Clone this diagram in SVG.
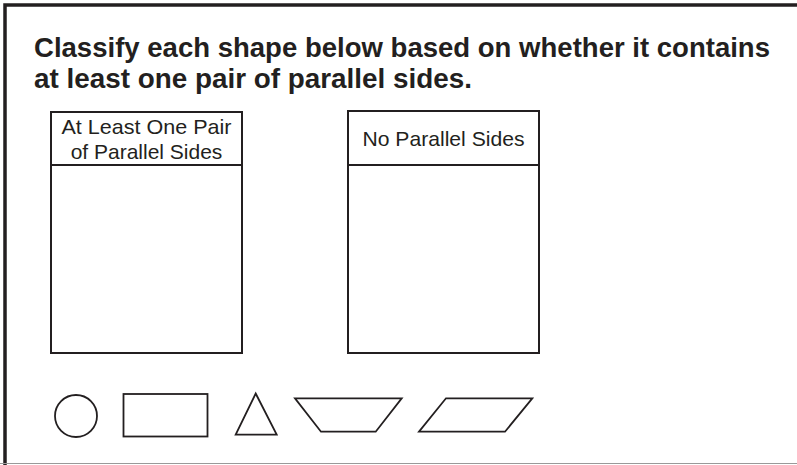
<svg xmlns="http://www.w3.org/2000/svg" width="797" height="465" viewBox="0 0 797 465">
<style>
.frame{fill:none;stroke:#231f20;stroke-width:3.5}
.box{fill:#fff;stroke:#231f20;stroke-width:2}
.shape{fill:#fff;stroke:#231f20;stroke-width:1.8}
.title{font-family:"Liberation Sans",Arial,sans-serif;font-weight:bold;font-size:27px;fill:#231f20}
.hdr{font-family:"Liberation Sans",Arial,sans-serif;font-size:21px;fill:#231f20;text-anchor:middle}
</style>
<rect width="797" height="465" fill="#fff"/>
<g id="frame">
<polyline class="frame" points="797,5 5,5 5,465"/>
<line x1="0" y1="463.5" x2="797" y2="463.5" stroke="#999" stroke-width="1.2"/>
</g>
<g id="title">
<text class="title" x="34" y="57" textLength="736" lengthAdjust="spacingAndGlyphs">Classify each shape below based on whether it contains</text>
<text class="title" x="34" y="88" textLength="438" lengthAdjust="spacingAndGlyphs">at least one pair of parallel sides.</text>
</g>
<g id="box-parallel">
<rect class="box" x="51" y="112" width="191" height="241"/>
<line class="box" x1="51" y1="165" x2="242" y2="165"/>
<text class="hdr" x="146.5" y="134" textLength="170" lengthAdjust="spacingAndGlyphs">At Least One Pair</text>
<text class="hdr" x="146.5" y="158.5">of Parallel Sides</text>
</g>
<g id="box-noparallel">
<rect class="box" x="348" y="111" width="191" height="242"/>
<line class="box" x1="348" y1="165" x2="539" y2="165"/>
<text class="hdr" x="443.5" y="146" textLength="162" lengthAdjust="spacingAndGlyphs">No Parallel Sides</text>
</g>
<g id="circle"><circle class="shape" cx="76" cy="416" r="21"/></g>
<g id="rectangle"><rect class="shape" x="123.5" y="394" width="84" height="42.5"/></g>
<g id="triangle"><polygon class="shape" points="255.7,393.5 276.7,434.7 235.7,434.7"/></g>
<g id="trapezoid"><polygon class="shape" points="295,398.3 401.7,398.3 375.7,431.7 321,431.7"/></g>
<g id="parallelogram"><polygon class="shape" points="446,398.3 532.3,398.3 505,431.7 419,431.7"/></g>
</svg>
